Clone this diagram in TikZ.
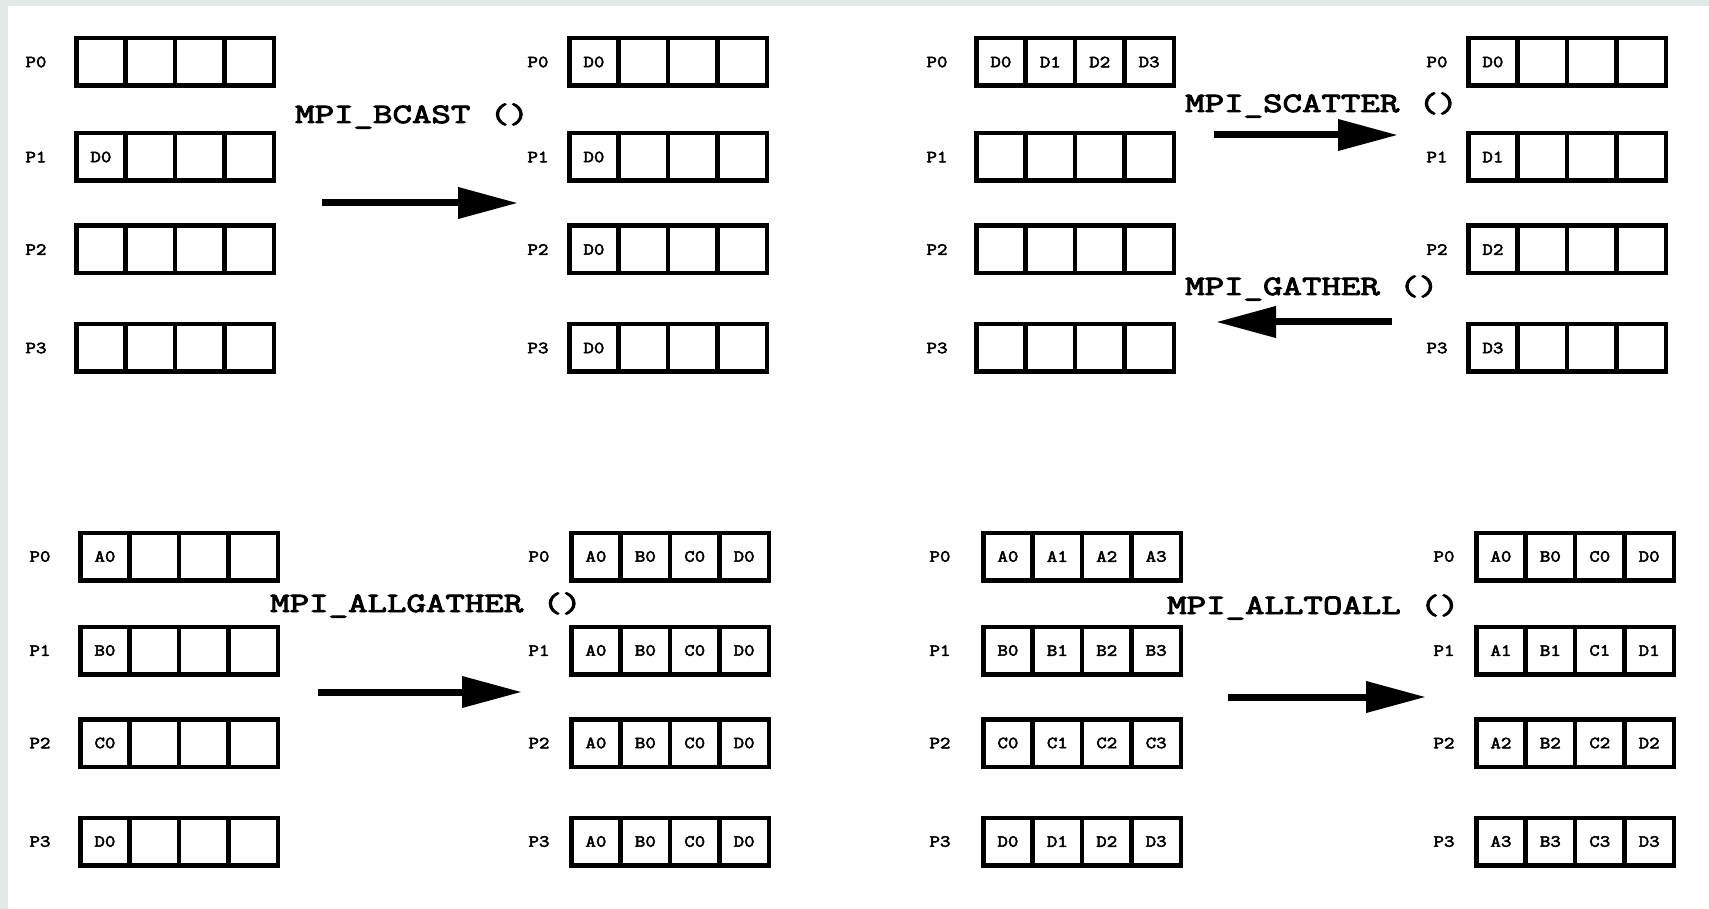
\documentclass[tikz,border=0pt]{standalone}
\usepackage{fontspec}
\newfontfamily\opfont{Latin Modern Mono}[FakeBold=3.5,FakeStretch=1.35]
\newfontfamily\cellfont{Latin Modern Mono}[FakeBold=3,FakeStretch=1.2]
\usetikzlibrary{arrows.meta}
\definecolor{edgegray}{HTML}{E2E9E6}
\tikzset{
  cell/.style={draw, line width=4.5pt, minimum width=49.4pt, minimum height=47.5pt,
    inner sep=0pt, font=\cellfont\fontsize{17}{17}\selectfont},
  plabel/.style={inner sep=0pt, font=\cellfont\fontsize{17}{17}\selectfont},
  opname/.style={anchor=base west, inner sep=0pt,
    font=\opfont\fontsize{28}{28}\selectfont},
  moveto/.style={line width=7pt, -{Triangle[length=60pt,width=30pt]}},
}
% one process buffer: name, label x, left edge, centre y, four cells, label
\newcommand\bufrow[9]{%
  \node[plabel] (#1-l) at (#2,#4) {#9};
  \node[cell] (#1-0) at ({#3+2.25+24.7},#4) {#5};
  \node[cell] (#1-1) at ({#3+2.25+74.1},#4) {#6};
  \node[cell] (#1-2) at ({#3+2.25+123.5},#4) {#7};
  \node[cell] (#1-3) at ({#3+2.25+172.9},#4) {#8};
}
\begin{document}
\begin{tikzpicture}[x=1pt,y=-1pt]
\useasboundingbox (0,0) rectangle (1709,909);
\fill[edgegray] (0,0) rectangle (1709,909);
\fill[white] (8,6) rectangle (1709,909);

% ---- broadcast ----
\bufrow{ba0}{36}{74}{62}{}{}{}{}{P0}
\bufrow{ba1}{36}{74}{157}{D0}{}{}{}{P1}
\bufrow{ba2}{36}{74}{249.5}{}{}{}{}{P2}
\bufrow{ba3}{36}{74}{348}{}{}{}{}{P3}
\bufrow{bb0}{538}{567}{62}{D0}{}{}{}{P0}
\bufrow{bb1}{538}{567}{157}{D0}{}{}{}{P1}
\bufrow{bb2}{538}{567}{249.5}{D0}{}{}{}{P2}
\bufrow{bb3}{538}{567}{348}{D0}{}{}{}{P3}
\node[opname] (bcast) at (295,123) {MPI\_BCAST ()};
\coordinate (bs) at (322,203);
\coordinate (be) at (518,203);
\draw[moveto] (bs) -- (be);

% ---- scatter / gather ----
\bufrow{sa0}{937}{974}{62}{D0}{D1}{D2}{D3}{P0}
\bufrow{sa1}{937}{974}{157}{}{}{}{}{P1}
\bufrow{sa2}{937}{974}{249.5}{}{}{}{}{P2}
\bufrow{sa3}{937}{974}{348}{}{}{}{}{P3}
\bufrow{sb0}{1437}{1466}{62}{D0}{}{}{}{P0}
\bufrow{sb1}{1437}{1466}{157}{D1}{}{}{}{P1}
\bufrow{sb2}{1437}{1466}{249.5}{D2}{}{}{}{P2}
\bufrow{sb3}{1437}{1466}{348}{D3}{}{}{}{P3}
\node[opname] (scatter) at (1185,112) {MPI\_SCATTER ()};
\node[opname] (gather) at (1185,295) {MPI\_GATHER ()};
\coordinate (ss) at (1214,135);
\coordinate (se) at (1398,135);
\draw[moveto] (ss) -- (se);
\coordinate (gs) at (1392,322);
\coordinate (ge) at (1216,322);
\draw[moveto] (gs) -- (ge);

% ---- allgather ----
\bufrow{ga0}{40}{78}{556.5}{A0}{}{}{}{P0}
\bufrow{ga1}{40}{78}{650.5}{B0}{}{}{}{P1}
\bufrow{ga2}{40}{78}{743}{C0}{}{}{}{P2}
\bufrow{ga3}{40}{78}{841.5}{D0}{}{}{}{P3}
\bufrow{gb0}{539}{569}{556.5}{A0}{B0}{C0}{D0}{P0}
\bufrow{gb1}{539}{569}{650.5}{A0}{B0}{C0}{D0}{P1}
\bufrow{gb2}{539}{569}{743}{A0}{B0}{C0}{D0}{P2}
\bufrow{gb3}{539}{569}{841.5}{A0}{B0}{C0}{D0}{P3}
\node[opname] (allgather) at (270,612) {MPI\_ALLGATHER ()};
\coordinate (as) at (318,692);
\coordinate (ae) at (522,692);
\draw[moveto] (as) -- (ae);

% ---- all-to-all ----
\bufrow{ta0}{940}{981}{556.5}{A0}{A1}{A2}{A3}{P0}
\bufrow{ta1}{940}{981}{650.5}{B0}{B1}{B2}{B3}{P1}
\bufrow{ta2}{940}{981}{743}{C0}{C1}{C2}{C3}{P2}
\bufrow{ta3}{940}{981}{841.5}{D0}{D1}{D2}{D3}{P3}
\bufrow{tb0}{1444}{1474}{556.5}{A0}{B0}{C0}{D0}{P0}
\bufrow{tb1}{1444}{1474}{650.5}{A1}{B1}{C1}{D1}{P1}
\bufrow{tb2}{1444}{1474}{743}{A2}{B2}{C2}{D2}{P2}
\bufrow{tb3}{1444}{1474}{841.5}{A3}{B3}{C3}{D3}{P3}
\node[opname] (alltoall) at (1167,614) {MPI\_ALLTOALL ()};
\coordinate (ts) at (1228,697);
\coordinate (te) at (1426,697);
\draw[moveto] (ts) -- (te);
\end{tikzpicture}
\end{document}
